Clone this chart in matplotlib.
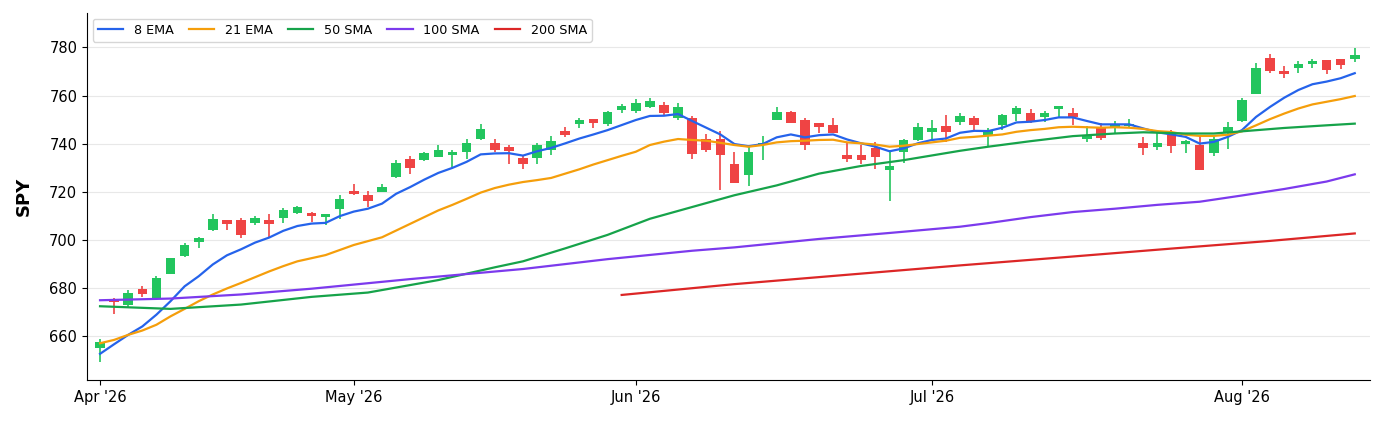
import matplotlib
matplotlib.use('Agg')
from matplotlib import pyplot as plt

# daily candles, one per trading day (index 0 = first day shown)
opens = [654.8, 675.3, 672.8, 679.5, 675.5, 685.8, 693.2, 699.2, 704.1, 708.4,
         708.4, 707.1, 708.0, 709.0, 711.3, 711.3, 709.4, 712.6, 720.4, 718.4,
         719.8, 726.2, 733.4, 733.1, 734.3, 735.3, 736.6, 741.7, 740.1, 738.4,
         733.8, 734.1, 737.3, 745.4, 748.1, 750.2, 748.3, 753.9, 753.6, 755.3,
         756.1, 750.5, 750.5, 741.7, 741.9, 731.5, 726.8, 739.4, 749.8, 753.0,
         749.7, 748.4, 747.7, 735.2, 735.2, 738.2, 729.2, 736.6, 741.5, 744.9,
         747.3, 748.8, 750.5, 743.5, 747.7, 752.2, 752.6, 751.2, 754.4, 752.9,
         742.1, 746.6, 746.6, 747.4, 740.1, 738.7, 743.5, 739.7, 739.6, 736.2,
         744.2, 749.5, 760.8, 775.8, 770.4, 771.4, 773.0, 774.6, 775.1, 775.0]
highs = [658.6, 675.8, 679.2, 680.6, 684.8, 692.5, 698.8, 701.3, 710.9, 708.4,
         709.2, 709.7, 710.8, 713.0, 714.1, 711.5, 710.8, 718.4, 723.3, 720.4,
         723.2, 733.1, 734.9, 736.6, 739.4, 737.3, 742.1, 748.1, 741.7, 739.6,
         734.9, 740.3, 743.3, 747.0, 750.5, 750.2, 753.7, 756.5, 758.5, 758.9,
         757.1, 756.8, 751.6, 743.8, 745.2, 736.6, 738.7, 743.3, 755.1, 753.7,
         750.5, 748.4, 750.5, 740.3, 739.6, 740.8, 737.3, 742.1, 748.7, 749.8,
         751.9, 752.9, 751.6, 746.3, 752.2, 755.8, 754.4, 753.6, 755.8, 754.7,
         747.3, 748.7, 749.4, 750.2, 742.8, 744.2, 745.6, 741.4, 742.8, 742.8,
         749.0, 758.8, 773.4, 777.2, 772.1, 774.4, 775.1, 774.6, 775.1, 779.7]
lows = [649.3, 669.2, 671.6, 676.2, 675.5, 685.8, 693.0, 696.7, 703.7, 704.1,
        700.6, 706.2, 700.9, 707.1, 710.5, 707.4, 706.3, 708.7, 718.4, 713.6,
        719.8, 725.7, 727.5, 732.7, 734.3, 730.3, 733.5, 741.3, 736.3, 731.3,
        729.6, 731.7, 735.2, 742.7, 746.3, 746.3, 747.3, 752.9, 752.9, 754.7,
        751.6, 749.8, 733.5, 736.3, 720.5, 723.6, 722.3, 733.1, 749.8, 748.4,
        737.3, 744.2, 744.5, 732.4, 731.3, 729.6, 716.3, 732.1, 741.0, 742.1,
        740.5, 747.7, 745.6, 738.7, 745.6, 749.4, 748.4, 748.8, 751.2, 747.7,
        740.8, 741.5, 744.2, 747.0, 735.2, 737.3, 735.9, 736.2, 728.8, 734.7,
        737.6, 749.0, 760.8, 769.3, 767.4, 769.5, 771.6, 769.0, 771.1, 774.1]
closes = [657.3, 674.2, 677.9, 677.2, 684.1, 692.5, 697.9, 700.6, 708.5, 706.7,
          702.1, 709.2, 706.7, 712.3, 713.4, 709.7, 710.8, 717.0, 719.0, 715.9,
          721.9, 731.8, 729.9, 735.9, 737.5, 736.6, 740.3, 746.1, 737.3, 737.0,
          731.7, 739.6, 741.0, 743.5, 749.7, 748.6, 753.0, 755.8, 756.8, 757.9,
          752.6, 755.4, 735.5, 737.3, 735.2, 723.6, 736.3, 740.3, 753.0, 748.7,
          739.4, 747.0, 744.5, 733.5, 733.1, 734.5, 730.6, 741.3, 747.0, 746.3,
          744.9, 751.6, 747.7, 745.2, 751.9, 755.0, 749.4, 752.6, 755.8, 751.2,
          743.5, 742.4, 747.7, 748.1, 738.2, 740.1, 739.2, 741.1, 729.2, 742.1,
          746.8, 758.1, 771.6, 770.0, 768.8, 773.3, 774.4, 770.7, 772.5, 776.7]

ema8 = [652.5, 656.5, 660.4, 663.9, 668.8, 674.4, 680.6, 684.8, 689.7, 693.5,
        696.0, 698.8, 700.9, 703.7, 705.7, 706.7, 707.0, 709.8, 711.7, 712.9,
        715.0, 719.1, 721.9, 725.0, 727.8, 729.9, 732.4, 735.5, 735.9, 736.0,
        735.0, 736.8, 738.2, 740.1, 742.1, 743.8, 745.6, 747.7, 749.8, 751.5,
        751.6, 752.3, 749.4, 746.6, 743.8, 739.8, 738.9, 739.8, 742.6, 743.8,
        742.6, 743.5, 743.8, 741.7, 740.1, 738.7, 736.8, 738.0, 740.1, 741.5,
        742.1, 744.5, 745.3, 745.2, 746.6, 748.8, 749.1, 749.8, 750.9, 750.9,
        749.4, 748.0, 748.0, 748.0, 746.3, 744.7, 743.8, 742.8, 740.0, 740.7,
        742.8, 745.6, 751.1, 755.3, 759.1, 762.3, 764.7, 765.8, 767.2, 769.3]
ema21 = [656.9, 658.3, 660.4, 662.2, 664.6, 668.1, 671.2, 674.4, 677.2, 679.7,
         682.0, 684.4, 686.8, 689.0, 691.0, 692.3, 693.6, 695.7, 697.8, 699.4,
         701.0, 703.8, 706.6, 709.4, 712.2, 714.5, 717.0, 719.6, 721.5, 722.9,
         724.0, 724.8, 725.7, 727.5, 729.3, 731.3, 733.1, 734.9, 736.6, 739.4,
         740.8, 741.9, 741.5, 741.2, 740.3, 739.4, 738.7, 739.4, 740.5, 741.0,
         741.2, 741.5, 741.6, 740.5, 740.1, 739.6, 738.7, 739.1, 739.8, 740.5,
         741.2, 742.4, 742.8, 743.3, 743.8, 744.9, 745.6, 746.1, 746.8, 747.0,
         746.8, 746.6, 746.8, 746.6, 746.1, 745.2, 744.8, 743.7, 743.2, 743.2,
         743.7, 745.1, 747.6, 750.2, 752.5, 754.6, 756.3, 757.4, 758.5, 759.8]

# slower averages, read at a few days each
sma50_idx = [0, 5, 10, 15, 19, 24, 28, 30, 33, 36, 39, 42, 45, 48, 51, 54, 57,
             61, 63, 66, 69, 72, 74, 77, 79, 81, 84, 87, 89]
sma50 = [672.3, 671.2, 673.0, 676.2, 678.0, 683.2, 688.5, 691.0, 696.4, 702.0,
         708.7, 713.6, 718.5, 722.6, 727.5, 730.7, 733.1, 737.0, 738.7, 741.0,
         743.1, 744.2, 744.7, 744.2, 744.2, 745.1, 746.5, 747.6, 748.3]
sma100_idx = [0, 5, 10, 15, 22, 30, 36, 42, 45, 51, 56, 61, 63, 66, 69, 72,
              75, 78, 81, 84, 87, 89]
sma100 = [674.8, 675.5, 677.2, 679.6, 683.6, 687.8, 691.9, 695.4, 696.8, 700.3,
          702.8, 705.4, 706.9, 709.4, 711.5, 712.9, 714.5, 715.8, 718.4, 721.1,
          724.2, 727.2]
sma200_idx = [37, 45, 53, 61, 69, 76, 83, 89]
sma200 = [677.0, 681.5, 685.4, 689.3, 693.0, 696.3, 699.5, 702.6]

tick_idx = [0, 18, 38, 59, 81]
tick_labels = ["Apr '26", "May '26", "Jun '26", "Jul '26", "Aug '26"]

up_color = '#22c55e'
down_color = '#ef4444'

fig = plt.figure(figsize=(13.82, 4.22), dpi=100)
ax = fig.add_axes([0.063, 0.0995, 0.928, 0.870])

days = list(range(len(closes)))
colors = [up_color if c >= o else down_color for o, c in zip(opens, closes)]
bottoms = [min(o, c) for o, c in zip(opens, closes)]
heights = [max(abs(c - o), 0.8) for o, c in zip(opens, closes)]

ax.vlines(days, lows, highs, colors=colors, linewidth=1.2, zorder=2)
ax.bar(days, heights, bottom=bottoms, width=0.68, color=colors, zorder=3)

ax.plot(days, ema8, color='#2563eb', lw=1.6, label='8 EMA', zorder=4)
ax.plot(days, ema21, color='#f59e0b', lw=1.6, label='21 EMA', zorder=4)
ax.plot(sma50_idx, sma50, color='#16a34a', lw=1.6, label='50 SMA', zorder=4)
ax.plot(sma100_idx, sma100, color='#7c3aed', lw=1.6, label='100 SMA', zorder=4)
ax.plot(sma200_idx, sma200, color='#dc2626', lw=1.6, label='200 SMA', zorder=4)

ax.set_xlim(-0.92, 90.05)
ax.set_ylim(641.6, 794.4)
ax.set_yticks(range(660, 781, 20))
ax.set_xticks(tick_idx)
ax.set_xticklabels(tick_labels)
ax.tick_params(axis='both', labelsize=10.5)
ax.set_ylabel('SPY', fontsize=13, fontweight='bold', labelpad=12)

ax.grid(axis='y', color='#e8e8e8', linewidth=0.8)
ax.set_axisbelow(True)
ax.spines['top'].set_visible(False)
ax.spines['right'].set_visible(False)

ax.legend(loc='upper left', ncol=5, fontsize=9.2, frameon=True,
          edgecolor='#cccccc', borderaxespad=0.45, handlelength=2.0,
          columnspacing=1.2)

fig.savefig('out.png', dpi=100)
